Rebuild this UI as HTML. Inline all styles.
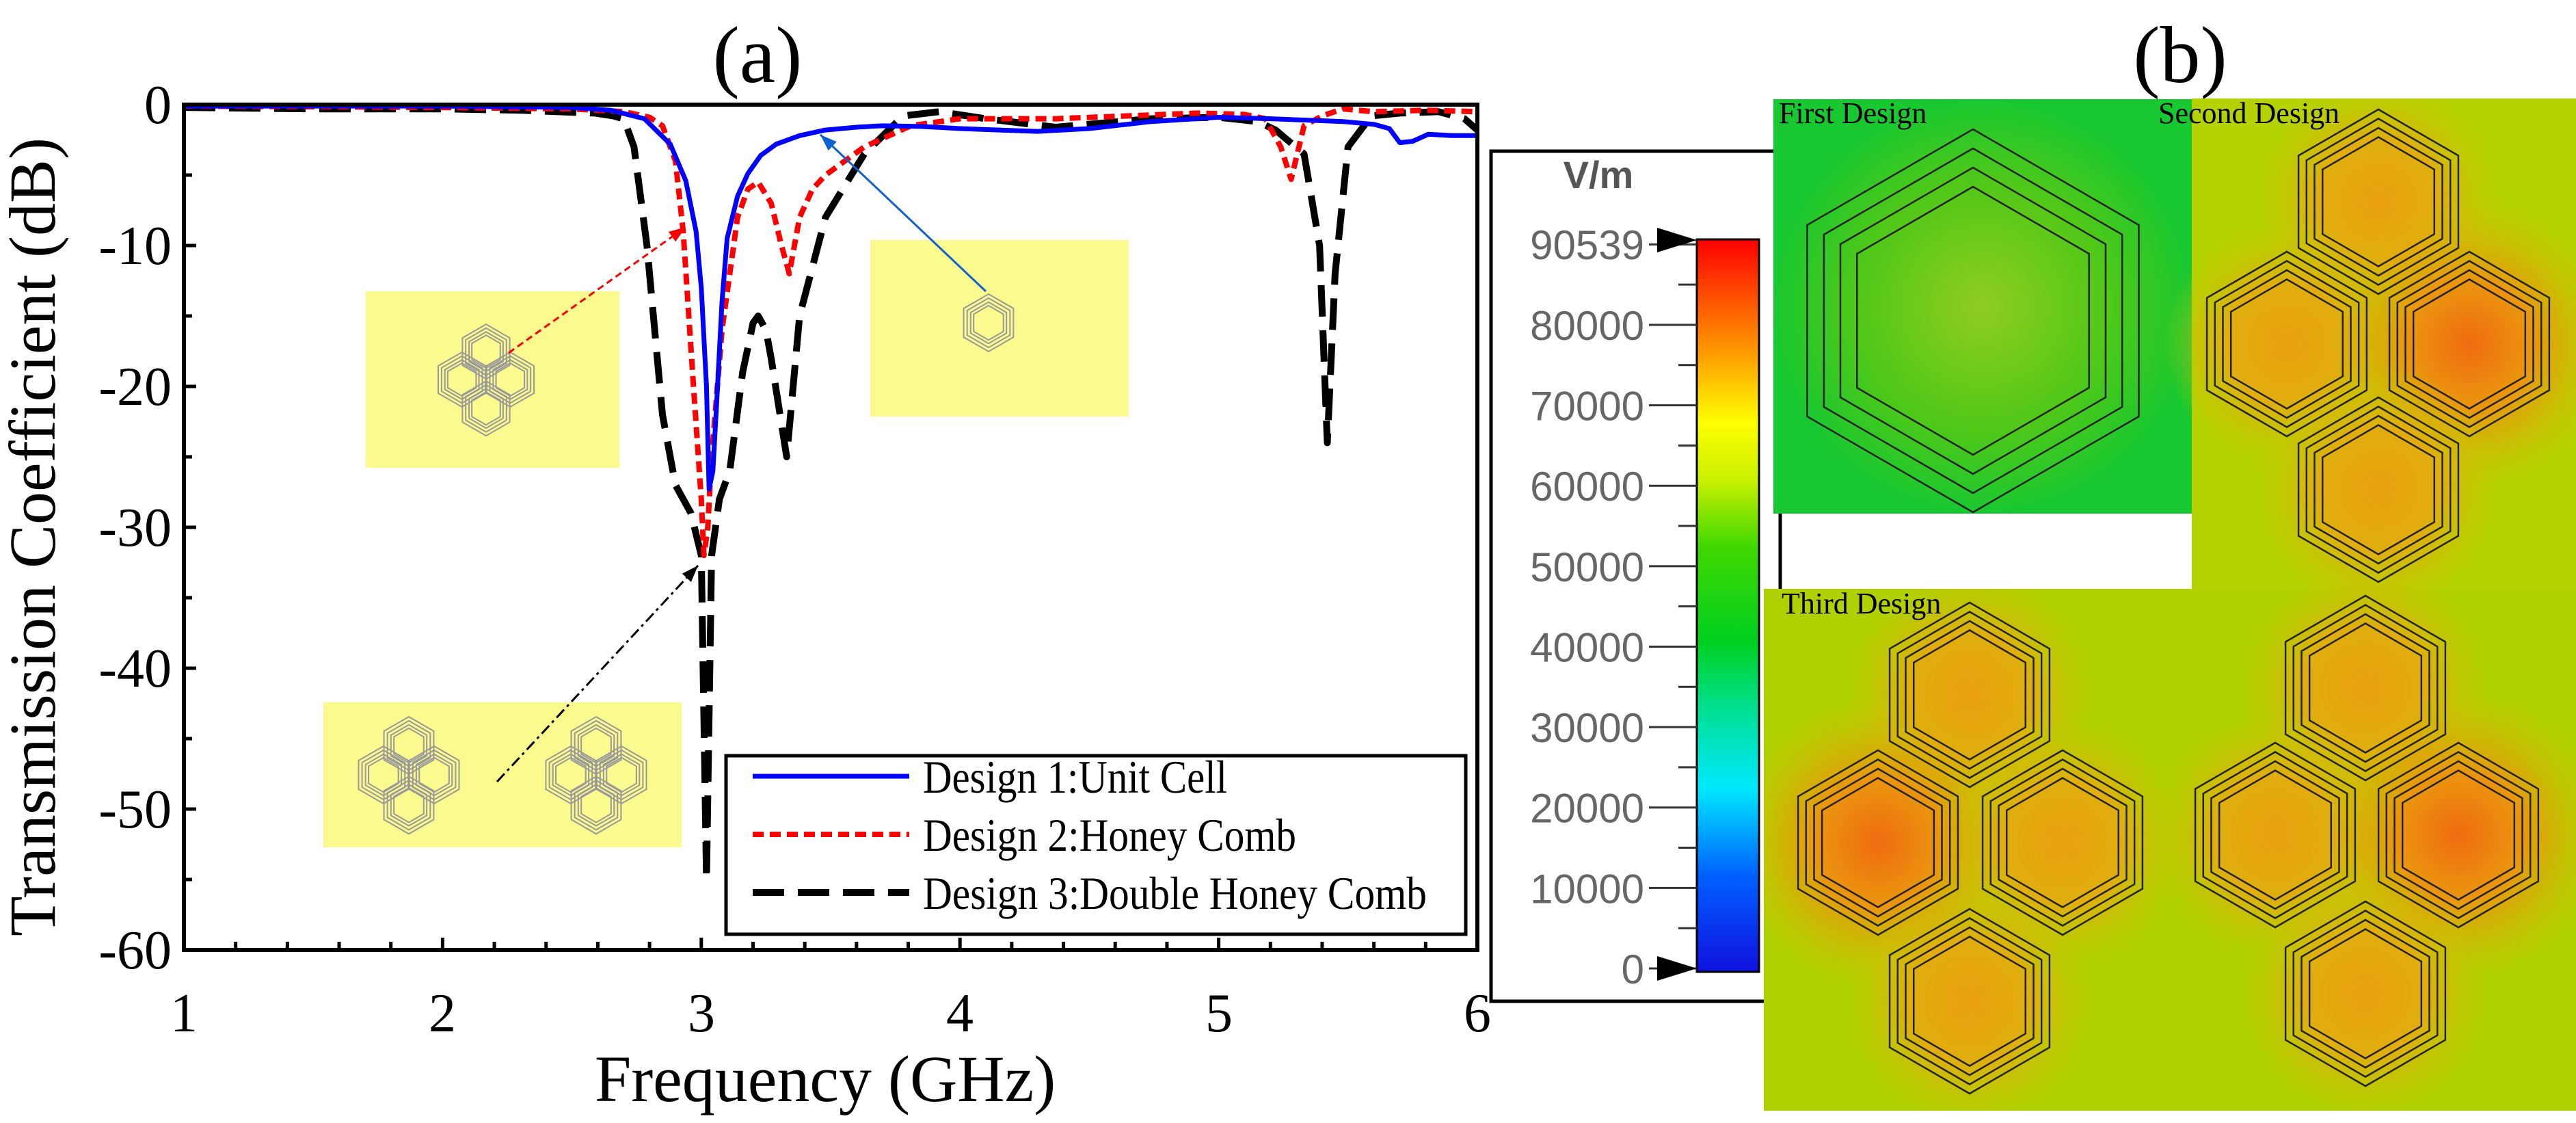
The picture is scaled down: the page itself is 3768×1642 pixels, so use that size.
<!DOCTYPE html>
<html><head><meta charset="utf-8"><style>
html,body{margin:0;padding:0;background:#fff;}
svg{display:block;}
</style></head>
<body>
<svg id="fig" width="3768" height="1642" viewBox="0 0 3768 1642" xmlns="http://www.w3.org/2000/svg">
<defs>
  <linearGradient id="cbar" x1="0" y1="1" x2="0" y2="0">
    <stop offset="0" stop-color="#1010e0"/>
    <stop offset="0.13" stop-color="#0060ff"/>
    <stop offset="0.25" stop-color="#00e8ff"/>
    <stop offset="0.36" stop-color="#00e090"/>
    <stop offset="0.45" stop-color="#00d020"/>
    <stop offset="0.58" stop-color="#40d800"/>
    <stop offset="0.67" stop-color="#c8f000"/>
    <stop offset="0.75" stop-color="#ffff00"/>
    <stop offset="0.84" stop-color="#ffa000"/>
    <stop offset="1" stop-color="#ff0000"/>
  </linearGradient>
  <radialGradient id="g1"><stop offset="0" stop-color="#90cc20"/><stop offset="0.6" stop-color="#50c818"/><stop offset="1" stop-color="#18c830"/></radialGradient>
  <radialGradient id="hot"><stop offset="0" stop-color="#f06a10"/><stop offset="0.45" stop-color="#f09010" stop-opacity="0.9"/><stop offset="1" stop-color="#d8b800" stop-opacity="0"/></radialGradient>
  <radialGradient id="warm"><stop offset="0" stop-color="#eca010"/><stop offset="0.5" stop-color="#e8a810" stop-opacity="0.85"/><stop offset="1" stop-color="#c8c800" stop-opacity="0"/></radialGradient>
  <clipPath id="fclip">
    <rect x="2594" y="145" width="612" height="606"/>
    <rect x="3206" y="144" width="562" height="717"/>
    <rect x="2580" y="861" width="1188" height="763"/>
  </clipPath>
</defs>

<text style="font-family:'Liberation Serif',serif" x="1108" y="120" font-size="118" text-anchor="middle">(a)</text>
<g id="plot"></g>

<text style="font-family:'Liberation Serif',serif" font-size="40" text-anchor="middle" transform="translate(269,1508) scale(2)">1</text>
<text style="font-family:'Liberation Serif',serif" font-size="40" text-anchor="middle" transform="translate(647,1508) scale(2)">2</text>
<text style="font-family:'Liberation Serif',serif" font-size="40" text-anchor="middle" transform="translate(1026,1508) scale(2)">3</text>
<text style="font-family:'Liberation Serif',serif" font-size="40" text-anchor="middle" transform="translate(1404,1508) scale(2)">4</text>
<text style="font-family:'Liberation Serif',serif" font-size="40" text-anchor="middle" transform="translate(1783,1508) scale(2)">5</text>
<text style="font-family:'Liberation Serif',serif" font-size="40" text-anchor="middle" transform="translate(2161,1508) scale(2)">6</text>
<text style="font-family:'Liberation Serif',serif" font-size="40" text-anchor="end" transform="translate(251,180) scale(2)">0</text>
<text style="font-family:'Liberation Serif',serif" font-size="40" text-anchor="end" transform="translate(251,386) scale(2)">-10</text>
<text style="font-family:'Liberation Serif',serif" font-size="40" text-anchor="end" transform="translate(251,592) scale(2)">-20</text>
<text style="font-family:'Liberation Serif',serif" font-size="40" text-anchor="end" transform="translate(251,798) scale(2)">-30</text>
<text style="font-family:'Liberation Serif',serif" font-size="40" text-anchor="end" transform="translate(251,1004) scale(2)">-40</text>
<text style="font-family:'Liberation Serif',serif" font-size="40" text-anchor="end" transform="translate(251,1210) scale(2)">-50</text>
<text style="font-family:'Liberation Serif',serif" font-size="40" text-anchor="end" transform="translate(251,1416) scale(2)">-60</text>
<text style="font-family:'Liberation Serif',serif" font-size="48" text-anchor="middle" transform="translate(1207,1610) scale(2)">Frequency (GHz)</text>
<text style="font-family:'Liberation Serif',serif" font-size="48" text-anchor="middle" transform="translate(80,785) rotate(-90) scale(2)">Transmission Coefficient (dB)</text>

<g id="cb">
  <rect x="2181" y="221" width="423" height="1243" fill="#fff" stroke="#000" stroke-width="5"/>
  <text style="font-family:'Liberation Sans',sans-serif" x="2338" y="275" font-size="56" font-weight="bold" fill="#555" text-anchor="middle">V/m</text>
  <rect x="2482" y="350" width="91" height="1071" fill="url(#cbar)" stroke="#000" stroke-width="3"/>
</g>

<text style="font-family:'Liberation Serif',serif" x="3189" y="120" font-size="118" text-anchor="middle">(b)</text>
<g id="fields">
  <rect x="2594" y="145" width="612" height="606" fill="url(#g1)"/>
  <rect x="3206" y="144" width="562" height="717" fill="#b4d200"/>
  <rect x="2580" y="861" width="1188" height="763" fill="#b0d000"/>
</g>
<g id="hexes" clip-path="url(#fclip)"></g>
<text style="font-family:'Liberation Serif',serif" x="2602" y="180" font-size="44">First Design</text>
<text style="font-family:'Liberation Serif',serif" x="3157" y="180" font-size="44">Second Design</text>
<text style="font-family:'Liberation Serif',serif" x="2606" y="897" font-size="44">Third Design</text>
</svg>

<script>
// ---- chart data ----
const freqBlue = [1,2,2.5,2.65,2.78,2.88,2.94,2.98,3.0,3.02,3.03,3.045,3.06,3.08,3.1,3.14,3.18,3.23,3.29,3.38,3.48,3.6,3.7,3.85,4.0,4.15,4.3,4.5,4.74,5.0,5.2,5.48,5.6,5.66,5.7,5.75,5.81,5.9,6.0];
const dbBlue   = [-0.1,-0.1,-0.2,-0.4,-1,-2.8,-5.4,-9,-13,-20,-27.3,-26,-21,-14,-9.5,-6.5,-4.9,-3.6,-2.8,-2.2,-1.8,-1.6,-1.5,-1.55,-1.7,-1.8,-1.9,-1.7,-1.2,-0.9,-1.0,-1.2,-1.4,-1.7,-2.7,-2.6,-2.1,-2.2,-2.2];
const freqRed = [1,2,2.5,2.7,2.8,2.85,2.9,2.93,2.97,3.0,3.01,3.025,3.04,3.08,3.14,3.18,3.22,3.27,3.31,3.34,3.38,3.43,3.48,3.63,3.81,4.0,4.37,4.92,5.1,5.18,5.24,5.28,5.33,5.4,5.48,5.6,5.8,6.0];
const dbRed   = [-0.1,-0.2,-0.3,-0.5,-0.9,-1.5,-4,-9,-20,-28,-32,-30,-25,-16,-8,-6,-5.5,-7,-10,-12,-8,-6,-5,-3,-1.5,-1,-1,-0.6,-0.7,-1,-3,-5.3,-1.5,-0.8,-0.3,-0.5,-0.4,-0.5];
const freqBlack = [1,1.5,2,2.3,2.59,2.66,2.7,2.74,2.79,2.85,2.9,2.96,3.0,3.02,3.04,3.07,3.11,3.16,3.2,3.22,3.25,3.27,3.33,3.38,3.48,3.63,3.78,3.92,4.1,4.37,4.74,5.0,5.15,5.22,5.33,5.39,5.42,5.45,5.5,5.59,5.7,5.85,5.95,6.0];
const dbBlack   = [-0.2,-0.3,-0.3,-0.4,-0.6,-0.8,-1,-3,-10,-22,-27,-29,-32,-55,-32,-28,-26,-19,-15.5,-15,-16,-18,-25,-15,-8,-3.5,-0.8,-0.5,-1,-1.6,-1,-0.9,-1.2,-1.8,-3.5,-10,-24,-12,-3,-0.8,-0.6,-0.5,-1,-1.8];
const cbTicks = [0,10000,20000,30000,40000,50000,60000,70000,80000];
const cbMax = 90539;

const NS = "http://www.w3.org/2000/svg";
function mk(tag, attrs, parent){const e=document.createElementNS(NS,tag);for(const k in attrs)e.setAttribute(k,attrs[k]);(parent||document.getElementById('fig')).appendChild(e);return e;}

const L=269,R=2161,T=153,B=1389;
const xs = f => L + (f-1)/5*(R-L);
const ys = d => T + (-d)/60*(B-T);
const plot = document.getElementById('plot');

function inset(x,y,w,h,name){const r=mk('rect',{x:x,y:y,width:w,height:h,fill:'#fbfa8e'},plot);

}
inset(535,426,371,258,'inset-honeycomb');
inset(1273,351,378,258,'inset-unit-cell');
inset(473,1027,524,212,'inset-double-honeycomb');

function hexPts(cx,cy,r){let p=[];for(let i=0;i<6;i++){const a=Math.PI/180*(60*i-90);p.push((cx+r*Math.cos(a)).toFixed(1)+','+(cy+r*Math.sin(a)).toFixed(1));}return p.join(' ');}
function miniHex(cx,cy,r,parent){[1,0.86,0.72,0.6].forEach(k=>{const h=mk('polygon',{points:hexPts(cx,cy,r*k),fill:'none',stroke:'#999',"stroke-width":2},parent);

});}
function cluster(cx,cy,r,parent){const dx=r*0.93,dy=r*1.55;
miniHex(cx,cy-dy*0.66,r,parent);miniHex(cx-dx*0.95,cy,r,parent);miniHex(cx+dx*0.95,cy,r,parent);miniHex(cx,cy+dy*0.68,r,parent);}
cluster(711,555,40,plot);
miniHex(1446,472,42,plot);
cluster(598,1133,42,plot);
cluster(872,1133,42,plot);

function curve(fx,dy,color,w,dash,name){let d='';for(let i=0;i<fx.length;i++){d+=(i?'L':'M')+xs(fx[i]).toFixed(1)+','+ys(dy[i]).toFixed(1);}
const p=mk('path',{d:d,fill:'none',stroke:color,"stroke-width":w,"stroke-dasharray":dash,"stroke-linejoin":'round'},plot);

}
curve(freqBlack,dbBlack,'#000',10,'46,20','series-design-3');
curve(freqRed,dbRed,'#f00',8,'16,9','series-design-2');
curve(freqBlue,dbBlue,'#00f',7,'none','series-design-1');

function arrow(x1,y1,x2,y2,color,dash,name){const l=mk('line',{x1:x1,y1:y1,x2:x2,y2:y2,stroke:color,"stroke-width":3,"stroke-dasharray":dash},plot);


const a=Math.atan2(y2-y1,x2-x1),s=26;
const h=mk('polygon',{points:`${x2},${y2} ${x2-s*Math.cos(a-0.35)},${y2-s*Math.sin(a-0.35)} ${x2-s*Math.cos(a+0.35)},${y2-s*Math.sin(a+0.35)}`,fill:color},plot);

}
arrow(744,516,1003,332,'#f00','10,6','arrow-honeycomb');
arrow(1442,426,1200,197,'#1060d0','none','arrow-unit-cell');
arrow(727,1143,1021,827,'#000','16,6,4,6','arrow-double-honeycomb');

const fr=mk('rect',{x:L,y:T,width:R-L,height:B-T,fill:'none',stroke:'#000',"stroke-width":6},plot);


for(let f=1;f<=6.001;f+=0.2){const x=xs(f),major=Math.abs(f-Math.round(f))<0.01;
const t=mk('line',{x1:x,y1:B,x2:x,y2:B-(major?18:12),stroke:'#000',"stroke-width":5},plot);

}
for(let d=0;d>=-60;d-=5){const y=ys(d);
const t=mk('line',{x1:L,y1:y,x2:L+(d%10===0?18:12),y2:y,stroke:'#000',"stroke-width":5},plot);

}

const lg=mk('rect',{x:1062,y:1105,width:1082,height:261,fill:'#fff',stroke:'#000',"stroke-width":5},plot);


const legItems=[['Design 1:Unit Cell','#00f',7,'none',1135,445],['Design 2:Honey Comb','#f00',8,'16,9',1220,546],['Design 3:Double Honey Comb','#000',10,'46,20',1305,737]];
legItems.forEach(it=>{const l=mk('line',{x1:1101,y1:it[4],x2:1330,y2:it[4],stroke:it[1],"stroke-width":it[2],"stroke-dasharray":it[3]},plot);


const t=mk('text',{style:"font-family:'Liberation Serif',serif",x:1350,y:it[4]+24,"font-size":68,textLength:it[5],lengthAdjust:'spacingAndGlyphs'},plot);t.textContent=it[0];

});

const cb=document.getElementById('cb');
const cy0=1416, step=(1416-351)/cbMax;
const cyv=v=>cy0-v*step;
for(let v=0;v<=cbMax;v+=5000){const y=cyv(v);const major=v%10000===0;
const t=mk('line',{x1:major?2412:2455,y1:y,x2:2482,y2:y,stroke:'#333',"stroke-width":3},cb);

}
cbTicks.concat([cbMax]).forEach(v=>{const t=mk('text',{style:"font-family:'Liberation Sans',sans-serif",x:2405,y:cyv(v)+(v===cbMax?28:22),"font-size":60,fill:'#666',"text-anchor":'end'},cb);t.textContent=v;

});
[cbMax,0].forEach(v=>{const y=cyv(v);const a=mk('polygon',{points:`2424,${y-18} 2482,${y} 2424,${y+18}`,fill:'#000'},cb);

});

const hx=document.getElementById('hexes');
function glow(cx,cy,r,grad){const c=mk('circle',{cx:cx,cy:cy,r:r,fill:grad},hx);

}
function ring(cx,cy,r){[1,0.9,0.8,0.7].forEach(k=>{const p=mk('polygon',{points:hexPts(cx,cy,r*k),fill:'none',stroke:'#222',"stroke-width":2.5},hx);

});}
const sec=[[3479,295,0],[3345,503,0],[3612,503,1],[3479,716,0]];
const thA=[[2881,1016,0],[2747,1232,1],[3017,1232,0],[2881,1464,0]];
const thB=[[3460,1006,0],[3328,1221,0],[3596,1221,1],[3460,1453,0]];
[sec,thA,thB].forEach(g=>g.forEach(h=>glow(h[0],h[1],h[2]?210:180,h[2]?'url(#hot)':'url(#warm)')));
ring(2886,469,280);
[sec,thA,thB].forEach(g=>g.forEach(h=>ring(h[0],h[1],135)));
</script>
</body></html>
